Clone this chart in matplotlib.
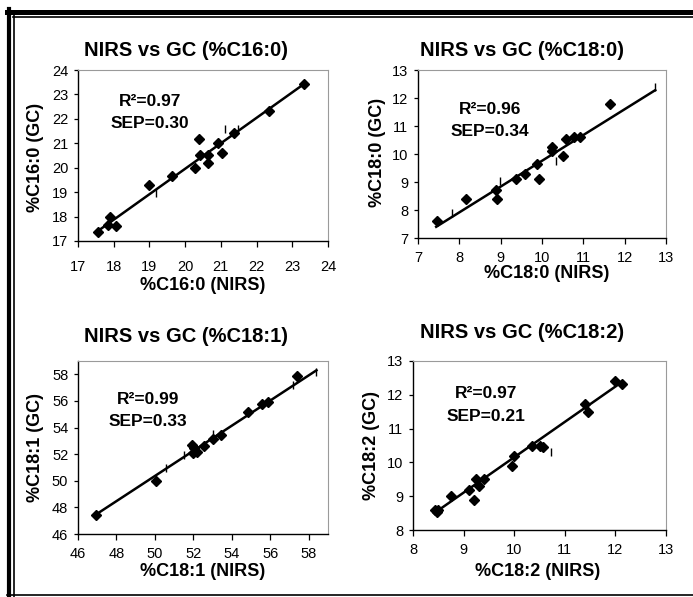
import matplotlib
matplotlib.use("Agg")
import matplotlib.pyplot as plt
from matplotlib.lines import Line2D

plt.rcParams['font.family'] = ['Liberation Sans', 'DejaVu Sans']

W, H = 693, 597

# measured values (NIRS, GC) for each fatty acid
c160_nirs = [17.56, 17.84, 17.89, 18.05, 19.0, 19.62, 20.27, 20.39, 20.42, 20.63, 20.65, 20.93, 21.02, 21.38, 22.36, 23.33]
c160_gc = [17.38, 17.65, 17.98, 17.6, 19.28, 19.66, 19.97, 21.18, 20.5, 20.53, 20.2, 21.02, 20.59, 21.42, 22.32, 23.42]
c180_nirs = [7.45, 8.15, 8.88, 8.92, 9.38, 9.6, 9.88, 9.92, 10.25, 10.25, 10.52, 10.57, 10.78, 10.92, 11.65]
c180_gc = [7.6, 8.4, 8.72, 8.4, 9.1, 9.3, 9.63, 9.12, 10.25, 10.12, 9.92, 10.53, 10.62, 10.6, 11.8]
c181_nirs = [46.95, 50.05, 51.95, 52.05, 51.97, 52.2, 52.55, 53.0, 53.45, 54.85, 55.57, 55.9, 57.4]
c181_gc = [47.45, 50.0, 52.72, 52.45, 52.1, 52.15, 52.65, 53.15, 53.45, 55.18, 55.75, 55.92, 57.87]
c182_nirs = [8.43, 8.5, 8.47, 8.75, 9.1, 9.2, 9.25, 9.3, 9.4, 9.95, 10.0, 10.35, 10.5, 10.57, 11.4, 11.45, 12.0, 12.13]
c182_gc = [8.6, 8.6, 8.52, 9.0, 9.18, 8.9, 9.5, 9.3, 9.5, 9.88, 10.2, 10.48, 10.5, 10.47, 11.72, 11.5, 12.42, 12.32]

# regression lines (end points)
fit160_x, fit160_y = [17.5, 23.35], [17.35, 23.45]
fit180_x, fit180_y = [7.44, 12.74], [7.4, 12.28]
fit181_x, fit181_y = [46.92, 58.4], [47.45, 58.3]
fit182_x, fit182_y = [8.44, 12.13], [8.52, 12.38]

# small vertical dash marks
dash160_x, dash160_y = [19.17, 21.12, 21.47], [18.95, 21.6, 21.6]
dash180_x, dash180_y = [7.82, 8.99, 10.34, 12.74], [7.88, 9.02, 9.75, 12.4]
dash181_x, dash181_y = [50.57, 51.53, 53.0, 57.18, 58.4], [50.95, 51.9, 53.55, 57.2, 58.15]
dash182_x, dash182_y = [10.73], [10.3]

r2_text = ['R\u00b2=0.97', 'R\u00b2=0.96', 'R\u00b2=0.99', 'R\u00b2=0.97']
sep_text = ['SEP=0.30', 'SEP=0.34', 'SEP=0.33', 'SEP=0.21']
titles = ['NIRS vs GC (%C16:0)', 'NIRS vs GC (%C18:0)', 'NIRS vs GC (%C18:1)', 'NIRS vs GC (%C18:2)']
xlabels = ['%C16:0 (NIRS)', '%C18:0 (NIRS)', '%C18:1 (NIRS)', '%C18:2 (NIRS)']
ylabels = ['%C16:0 (GC)', '%C18:0 (GC)', '%C18:1 (GC)', '%C18:2 (GC)']
limits = [(17, 24), (7, 13), (46, 59), (8, 13)]
ticks = [range(17, 25), range(7, 14), range(46, 59, 2), range(8, 14)]


def fx(x):
    return x / W


def fy(y):
    return 1 - y / H


def make_axes(fig, left, top, right, bottom):
    return fig.add_axes([fx(left), fy(bottom), fx(right) - fx(left), fy(top) - fy(bottom)])


def draw_panel(ax, i, xs, ys, fit_x, fit_y, dash_x, dash_y, ann_pos, xpad):
    ax.plot(fit_x, fit_y, '-', color='black', lw=1.8, zorder=2)
    ax.plot(xs, ys, 'D', color='black', ms=5.2, zorder=3)
    ax.plot(dash_x, dash_y, '|', color='black', ms=6, mew=1, zorder=3)
    lo, hi = limits[i]
    ax.set_xlim(lo, hi)
    ax.set_ylim(lo, hi)
    ax.set_xticks(list(ticks[i]))
    ax.set_yticks(list(ticks[i]))
    ax.tick_params(axis='x', direction='out', length=4, width=0.9, pad=xpad, labelsize=10.5)
    ax.tick_params(axis='y', direction='out', length=3, width=0.9, pad=4, labelsize=10.5)
    for s in ['top', 'right']:
        ax.spines[s].set_color('#9a9a9a')
        ax.spines[s].set_linewidth(0.8)
    for s in ['left', 'bottom']:
        ax.spines[s].set_color('black')
        ax.spines[s].set_linewidth(1.0)
    ax.text(ann_pos[0], ann_pos[1], r2_text[i], transform=ax.transAxes,
            ha='center', va='center', fontsize=12.5, fontweight='bold')
    ax.text(ann_pos[0], ann_pos[2], sep_text[i], transform=ax.transAxes,
            ha='center', va='center', fontsize=12.5, fontweight='bold')


fig = plt.figure(figsize=(W / 100, H / 100), dpi=100)

ax1 = make_axes(fig, 78, 70, 328, 241)
ax2 = make_axes(fig, 418, 70, 666, 238)
ax3 = make_axes(fig, 78, 361, 328, 534)
ax4 = make_axes(fig, 413, 361, 666, 530)

draw_panel(ax1, 0, c160_nirs, c160_gc, fit160_x, fit160_y, dash160_x, dash160_y, (0.288, 0.813, 0.69), 10)
draw_panel(ax2, 1, c180_nirs, c180_gc, fit180_x, fit180_y, dash180_x, dash180_y, (0.29, 0.762, 0.631), 5.5)
draw_panel(ax3, 2, c181_nirs, c181_gc, fit181_x, fit181_y, dash181_x, dash181_y, (0.28, 0.78, 0.653), 5)
draw_panel(ax4, 3, c182_nirs, c182_gc, fit182_x, fit182_y, dash182_x, dash182_y, (0.289, 0.81, 0.669), 5)

# titles and axis labels, placed in figure pixels
title_pos = [(186, 50), (522, 50), (186, 337), (522, 332)]
xlab_pos = [(203, 285), (547, 273), (203, 572), (538, 572)]
ylab_pos = [(35, 157), (377, 152), (35, 448), (372, 445)]
for i in range(4):
    fig.text(fx(title_pos[i][0]), fy(title_pos[i][1]), titles[i], ha='center', va='center',
             fontsize=14.5, fontweight='bold')
    fig.text(fx(xlab_pos[i][0]), fy(xlab_pos[i][1]), xlabels[i], ha='center', va='center',
             fontsize=13, fontweight='bold')
    fig.text(fx(ylab_pos[i][0]), fy(ylab_pos[i][1]), ylabels[i], ha='center', va='center',
             fontsize=13, fontweight='bold', rotation=90)

# double frame around the figure
frame = [
    ([7, W], [11.5, 11.5], 3.6),
    ([13, W], [16.7, 16.7], 1.2),
    ([9, 9], [9, H], 3.0),
    ([14, 14], [15, H], 1.2),
    ([7, W], [595, 595], 1.2),
]
for xs, ys, lw in frame:
    fig.add_artist(Line2D([fx(v) for v in xs], [fy(v) for v in ys], color='black', lw=lw))

fig.savefig('out.png', dpi=100)
